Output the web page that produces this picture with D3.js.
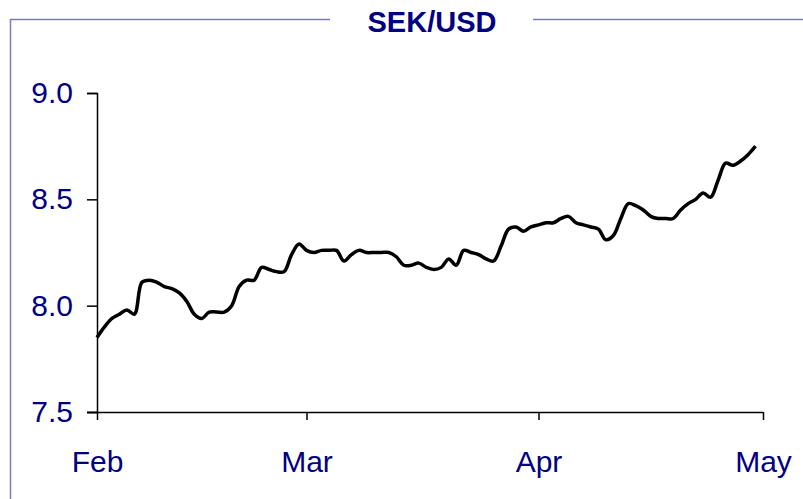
<!DOCTYPE html>
<html>
<head>
<meta charset="utf-8">
<script src="https://cdn.jsdelivr.net/npm/d3@7"></script>
<style>
	body { margin: 0; background: #fff; }
	svg { display: block; }
</style>
</head>
<body>
<script type="text/javascript">

	var title = "SEK/USD";

	// daily rate, Feb 1 .. Apr 30
	var firstDay = new Date(2007, 1, 1),
		lastDay = new Date(2007, 3, 30);

	var rates = [
		7.85, 7.90, 7.94, 7.96, 7.98, 7.96, 8.11, 8.12, 8.11, 8.09,
		8.08, 8.06, 8.02, 7.96, 7.94, 7.97, 7.97, 7.97, 8.00, 8.09,
		8.12, 8.12, 8.18, 8.17, 8.16, 8.16, 8.24, 8.29, 8.26, 8.25,
		8.26, 8.26, 8.26, 8.21, 8.24, 8.26, 8.25, 8.25, 8.25, 8.25,
		8.23, 8.19, 8.19, 8.20, 8.18, 8.17, 8.18, 8.22, 8.19, 8.26,
		8.25, 8.24, 8.22, 8.21, 8.28, 8.36, 8.37, 8.35, 8.37, 8.38,
		8.39, 8.39, 8.41, 8.42, 8.39, 8.38, 8.37, 8.36, 8.31, 8.33,
		8.41, 8.48, 8.47, 8.45, 8.42, 8.41, 8.41, 8.41, 8.45, 8.48,
		8.50, 8.53, 8.51, 8.59, 8.67, 8.66, 8.68, 8.71, 8.75
	];

	var yTicks = [7.5, 8.0, 8.5, 9.0];
	var monthLabels = ["Feb", "Mar", "Apr", "May"];
	var monthStarts = [new Date(2007, 1, 1), new Date(2007, 2, 1), new Date(2007, 3, 1), new Date(2007, 4, 1)];

	var days = d3.timeDay.range(firstDay, d3.timeDay.offset(lastDay, 1));
	var data = days.map(function(d, i) { return { date: d, value: rates[i] }; });

	var w = 803,
		h = 499;

	var navy = "#000080",
		frame = "#7c7cb4";

	var x = d3.scaleTime()
		.domain([monthStarts[0], monthStarts[3]])
		.range([97, 763]);

	var y = d3.scaleLinear()
		.domain([7.5, 9.0])
		.range([412, 93]);

	var svg = d3.select("body")
		.append("svg")
		.attr("width", w)
		.attr("height", h);

	// frame around the chart, broken by the title
	svg.append("path")
		.attr("d", "M10.5," + h + "V19.5H330")
		.attr("fill", "none")
		.attr("stroke", frame)
		.attr("stroke-width", 1.5);

	svg.append("line")
		.attr("x1", 533)
		.attr("x2", w)
		.attr("y1", 19.5)
		.attr("y2", 19.5)
		.attr("stroke", frame)
		.attr("stroke-width", 1.5);

	svg.append("text")
		.attr("x", 432)
		.attr("y", 32)
		.attr("text-anchor", "middle")
		.attr("font-family", "Liberation Sans, Arial, sans-serif")
		.attr("font-weight", "bold")
		.attr("font-size", "29px")
		.attr("fill", navy)
		.text(title);

	var yAxis = d3.axisLeft(y)
		.tickValues(yTicks)
		.tickFormat(d3.format(".1f"))
		.tickSize(10)
		.tickPadding(14);

	var xAxis = d3.axisBottom(x)
		.tickValues(monthStarts)
		.tickFormat(function(d, i) { return monthLabels[i]; })
		.tickSize(8)
		.tickPadding(52);

	var gy = svg.append("g")
		.attr("transform", "translate(97,0)")
		.call(yAxis);

	var gx = svg.append("g")
		.attr("transform", "translate(0,412)")
		.call(xAxis);

	[gx, gy].forEach(function(g) {
		g.select(".domain").attr("stroke", "#000").attr("stroke-width", 1.5);
		g.selectAll(".tick line").attr("stroke", "#000").attr("stroke-width", 1.5);
		g.selectAll(".tick text")
			.attr("fill", navy)
			.attr("font-family", "Liberation Sans, Arial, sans-serif")
			.attr("font-size", "30px");
	});

	// x axis line reaches the left end of the 7.5 tick
	gx.select(".domain").attr("d", "M87,0.5H763");
	gx.selectAll(".tick text").attr("dy", "0");

	var line = d3.line()
		.x(function(d) { return x(d.date); })
		.y(function(d) { return y(d.value); })
		.curve(d3.curveCatmullRom.alpha(0.5));

	svg.append("path")
		.datum(data)
		.attr("d", line)
		.attr("fill", "none")
		.attr("stroke", "#000")
		.attr("stroke-width", 3.5)
		.attr("stroke-linejoin", "round");

</script>
</body>
</html>
